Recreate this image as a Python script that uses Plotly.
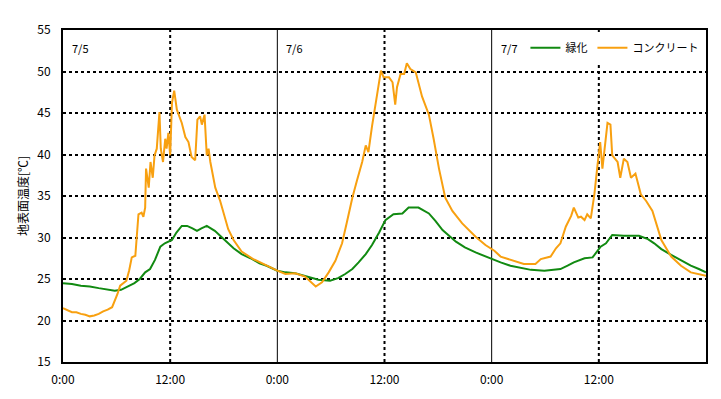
import plotly.graph_objects as go

# ---- data (hours from 7/5 0:00) ----
green_hours = [0, 1, 2, 3, 4, 5, 5.8, 6.5, 7.5, 8, 8.6, 9.2, 9.75, 10.3, 10.9, 11.4, 12.2,
               12.7, 13.3, 13.9, 14.5, 15.0, 15.5, 16.1, 17.0, 17.9, 19.1, 20, 21, 22, 22.8,
               24.0, 24.9, 26, 27.1, 28.6, 29.9, 30.8, 31.6, 32.4, 33.1, 33.9, 34.6, 35.4,
               36.1, 37.0, 38.0, 38.7, 39.8, 40.97, 41.7, 42.5, 44.0, 45, 46.2, 47.3, 48.3,
               49, 50.1, 51, 52.4, 53.9, 55.7, 56.5, 57.2, 58.4, 59.3, 60.2, 60.8, 61.5,
               62.8, 64.5, 65.5, 66.2, 67, 68.1, 69.2, 70.3, 71.2, 72]
green_temp = [24.5, 24.4, 24.2, 24.1, 23.9, 23.7, 23.6, 23.7, 24.2, 24.5, 25.0, 25.8, 26.2,
              27.3, 28.9, 29.3, 29.7, 30.6, 31.4, 31.4, 31.1, 30.8, 31.1, 31.4, 30.8, 29.9,
              28.7, 28.0, 27.5, 26.9, 26.6, 26.0, 25.8, 25.7, 25.4, 24.9, 24.8, 25.1, 25.6,
              26.2, 27.0, 28.0, 29.1, 30.6, 32.1, 32.8, 32.9, 33.6, 33.6, 32.9, 32.0, 30.9,
              29.5, 28.8, 28.2, 27.7, 27.3, 27.0, 26.6, 26.4, 26.1, 26.0, 26.2, 26.6, 27.0,
              27.5, 27.6, 28.9, 29.3, 30.3, 30.2, 30.2, 29.8, 29.3, 28.6, 27.9, 27.2, 26.6,
              26.2, 25.8]

conc_hours = [0, 0.5, 1, 1.5, 2, 2.5, 3, 3.5, 4, 4.5, 5, 5.5, 5.8, 6.1, 6.4, 6.7, 7.1, 7.4,
              7.7, 8.1, 8.3, 8.45, 8.8, 9.0, 9.2, 9.3, 9.6, 9.8, 10.05, 10.25, 10.5, 10.6,
              10.8, 10.95, 11.2, 11.45, 11.6, 11.8, 12.0, 12.2, 12.45, 12.75, 13.3, 13.7,
              14.05, 14.4, 14.8, 15.05, 15.35, 15.55, 15.85, 16.1, 16.3, 16.5, 17.05, 17.6,
              18.0, 18.5, 19.1, 20.0, 21.3, 22.8, 24.0, 24.9, 26.0, 27.1, 27.7, 28.3, 29.0,
              29.75, 30.5, 31.25, 31.8, 32.4, 32.9, 33.5, 33.9, 34.2, 34.6, 34.9, 35.2,
              35.6, 35.9, 36.5, 36.9, 37.2, 37.4, 37.8, 38.2, 38.5, 38.9, 39.5, 40.2, 40.97,
              41.5, 42.1, 42.8, 43.6, 44.7, 46.2, 47.3, 48.3, 49.0, 50.1, 51.6, 52.9, 53.5,
              54.6, 55.2, 55.7, 56.3, 56.9, 57.2, 57.7, 58.0, 58.4, 58.7, 59.1, 59.5, 59.85,
              60.15, 60.4, 60.7, 60.97, 61.3, 61.5, 62.1, 62.4, 62.8, 63.2, 63.6, 64.1,
              64.7, 65.3, 66.0, 66.5, 67.0, 68.1, 69.2, 70.3, 71.8, 72]
conc_temp = [21.5, 21.2, 21.0, 21.0, 20.8, 20.7, 20.5, 20.6, 20.8, 21.1, 21.3, 21.6, 22.3,
             23.2, 24.2, 24.5, 24.8, 26.0, 27.6, 27.8, 30.5, 32.8, 33.0, 32.5, 33.6, 38.3,
             36.0, 39.1, 37.2, 39.9, 40.7, 42.3, 45.1, 40.7, 39.1, 41.9, 40.7, 42.6, 39.9,
             46.2, 47.7, 45.4, 43.8, 42.1, 41.5, 39.7, 39.3, 44.2, 44.6, 43.6, 44.8, 39.9,
             40.7, 39.1, 36.0, 34.4, 32.8, 31.0, 29.7, 28.3, 27.4, 26.6, 26.0, 25.6, 25.7,
             25.3, 24.7, 24.1, 24.6, 25.8, 27.2, 29.3, 31.9, 34.8, 36.8, 39.1, 41.1, 40.3,
             43.4, 45.4, 47.7, 50.1, 49.3, 49.3, 48.7, 46.0, 48.1, 49.7, 49.7, 51.0, 50.3,
             49.9, 47.0, 44.8, 41.9, 38.3, 34.8, 33.2, 31.7, 30.1, 29.1, 28.4, 27.7, 27.3,
             26.8, 26.8, 27.4, 27.7, 28.7, 29.3, 31.3, 32.6, 33.6, 32.4, 32.5, 32.1, 32.8,
             32.3, 35.2, 38.7, 41.5, 38.3, 41.1, 43.8, 43.6, 39.9, 39.1, 37.2, 39.5, 39.1,
             37.2, 37.7, 35.2, 34.4, 33.2, 31.5, 29.7, 27.7, 26.6, 25.8, 25.4, 25.4]

series_names = ["緑化", "コンクリート"]
tick_hours = [0, 12, 24, 36, 48, 60]
tick_labels = ["0:00", "12:00", "0:00", "12:00", "0:00", "12:00"]
noon_hours = [12, 36, 60]
midnight_hours = [24, 48]
day_starts = [0, 24, 48]
day_labels = ["7/5", "7/6", "7/7"]

FONT = "Noto Sans CJK JP, DejaVu Sans, sans-serif"

fig = go.Figure()
fig.add_trace(go.Scatter(x=green_hours, y=green_temp, mode="lines", name=series_names[0],
                         line=dict(color="#118a11", width=2)))
fig.add_trace(go.Scatter(x=conc_hours, y=conc_temp, mode="lines", name=series_names[1],
                         line=dict(color="#f8a010", width=2)))

shapes = []
for h in noon_hours:
    shapes.append(dict(type="line", xref="x", yref="paper", x0=h, x1=h, y0=0, y1=1,
                       line=dict(color="black", width=2, dash="dot"), layer="below"))
for h in midnight_hours:
    shapes.append(dict(type="line", xref="x", yref="paper", x0=h, x1=h, y0=0, y1=1,
                       line=dict(color="black", width=1), layer="below"))

annotations = []
for d, lab in zip(day_starts, day_labels):
    annotations.append(dict(x=d, y=1, xref="x", yref="paper", text=lab, showarrow=False,
                            xanchor="left", yanchor="top", xshift=7, yshift=-8,
                            font=dict(size=11, color="black", family=FONT)))

fig.update_layout(
    width=713, height=391,
    margin=dict(l=55, r=15, t=17, b=34),
    paper_bgcolor="white", plot_bgcolor="white",
    font=dict(family=FONT, size=11, color="black"),
    shapes=shapes, annotations=annotations,
    legend=dict(orientation="h", x=0.996, xanchor="right", y=0.99, yanchor="top",
                bgcolor="white", font=dict(size=11, family=FONT), itemwidth=30,
                tracegroupgap=0),
    xaxis=dict(range=[0, 72], tickvals=tick_hours, ticktext=tick_labels, showgrid=False,
               zeroline=False, showline=True, mirror=True, linecolor="black", linewidth=2,
               ticks="outside", ticklen=6, tickcolor="rgba(0,0,0,0)",
               tickfont=dict(size=12, family=FONT)),
    yaxis=dict(range=[15, 55], dtick=5, tick0=15, showgrid=True, gridcolor="black",
               griddash="dot", gridwidth=2, zeroline=False, showline=True, mirror=True,
               linecolor="black", linewidth=2, ticks="outside", ticklen=8,
               tickcolor="rgba(0,0,0,0)", tickfont=dict(size=12, family=FONT),
               title=dict(text="地表面温度[℃]", font=dict(size=12, family=FONT), standoff=6)),
)

fig.write_html("out.html")
